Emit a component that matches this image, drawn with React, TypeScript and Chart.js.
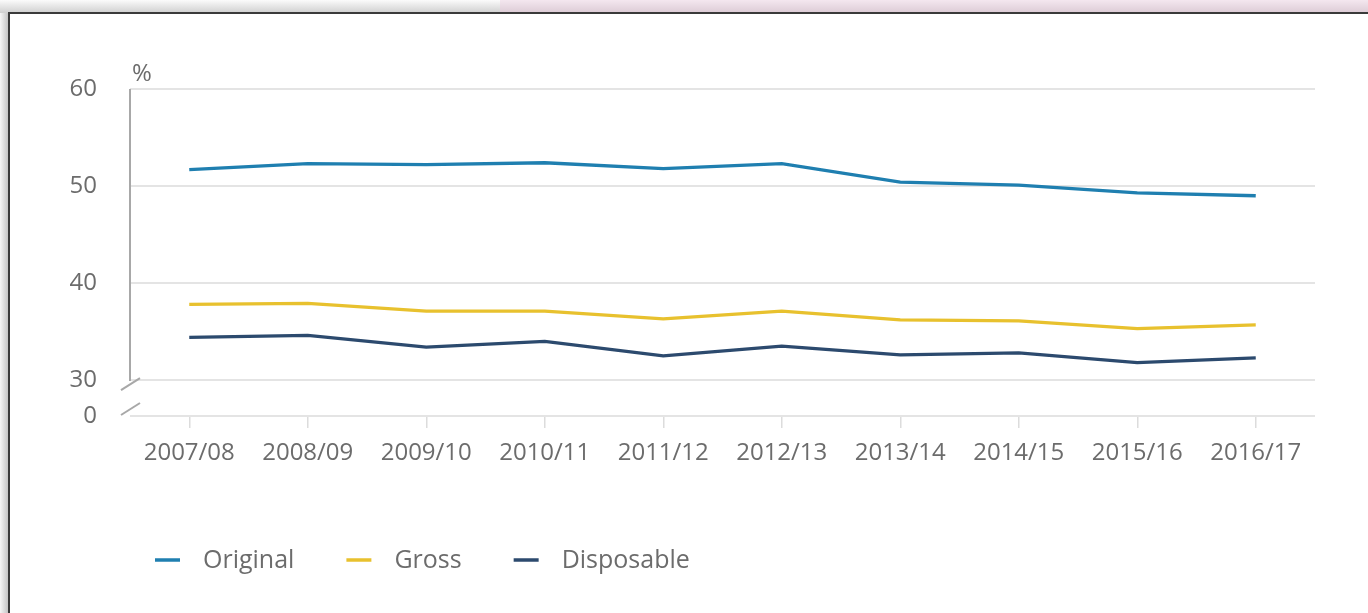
import React, { useEffect, useRef } from "react";
import { Chart, registerables } from "chart.js";

Chart.register(...registerables);

const categories = ["2007/08", "2008/09", "2009/10", "2010/11", "2011/12", "2012/13", "2013/14", "2014/15", "2015/16", "2016/17"];
const originalValues = [51.7, 52.3, 52.2, 52.4, 51.8, 52.3, 50.4, 50.1, 49.3, 49.0];
const grossValues = [37.8, 37.9, 37.1, 37.1, 36.3, 37.1, 36.2, 36.1, 35.3, 35.7];
const disposableValues = [34.4, 34.6, 33.4, 34.0, 32.5, 33.5, 32.6, 32.8, 31.8, 32.3];
// the axis is broken below 30: the "0" baseline is drawn at this display position
const yBreakFloor = 26.3;
const yTickValues = [yBreakFloor, 30, 40, 50, 60];
const yTickLabels = ["0", "30", "40", "50", "60"];
const yUnit = "%";

const FONT = "'Open Sans', 'DejaVu Sans', sans-serif";
const TEXT = "#6c6c6c";

const decorPlugin = {
  id: "decor",
  afterDraw(chart: any) {
    const { ctx, chartArea, scales } = chart;
    const y = scales.y;
    const left = chartArea.left;
    ctx.save();
    // unit label
    ctx.fillStyle = TEXT;
    ctx.font = `24px ${FONT}`;
    ctx.textAlign = "left";
    ctx.textBaseline = "middle";
    ctx.fillText(yUnit, left + 2, y.getPixelForValue(60) - 15);
    // axis line with break
    const y30 = y.getPixelForValue(30);
    const y0 = y.getPixelForValue(yBreakFloor);
    ctx.strokeStyle = "#a8a8a8";
    ctx.lineWidth = 2;
    ctx.beginPath();
    ctx.moveTo(left, y.getPixelForValue(60));
    ctx.lineTo(left, y30 + 1);
    ctx.stroke();
    const slash = (cy: number) => {
      ctx.beginPath();
      ctx.moveTo(left - 9, cy + 6);
      ctx.lineTo(left + 10, cy - 6);
      ctx.stroke();
    };
    slash(y30 + 4);
    slash(y0 - 7);
    // legend
    ctx.font = `25px ${FONT}`;
    ctx.textBaseline = "middle";
    let x = left + 25;
    const ly = 560 - 14;
    chart.data.datasets.forEach((ds: any) => {
      ctx.strokeStyle = ds.borderColor;
      ctx.lineWidth = 3.5;
      ctx.beginPath();
      ctx.moveTo(x, ly);
      ctx.lineTo(x + 25, ly);
      ctx.stroke();
      ctx.fillStyle = TEXT;
      ctx.fillText(ds.label, x + 48, ly + 1);
      x += 48 + ctx.measureText(ds.label).width + 52;
    });
    ctx.restore();
  },
};

export default function App() {
  const ref = useRef<HTMLCanvasElement | null>(null);
  useEffect(() => {
    if (!ref.current) return;
    const chart = new Chart(ref.current, {
      type: "line",
      data: {
        labels: categories,
        datasets: [
          { label: "Original", data: originalValues, borderColor: "#1f7fb0", backgroundColor: "#1f7fb0" },
          { label: "Gross", data: grossValues, borderColor: "#e8c12e", backgroundColor: "#e8c12e" },
          { label: "Disposable", data: disposableValues, borderColor: "#2c4a6e", backgroundColor: "#2c4a6e" },
        ],
      },
      options: {
        animation: false,
        responsive: true,
        maintainAspectRatio: false,
        elements: {
          line: { borderWidth: 3.3, tension: 0 },
          point: { radius: 0, hoverRadius: 0 },
        },
        layout: { padding: { left: 50, top: 75, right: 35, bottom: 137 } },
        plugins: { legend: { display: false }, tooltip: { enabled: false } },
        scales: {
          x: {
            offset: true,
            border: { display: false },
            grid: { display: true, drawOnChartArea: false, drawTicks: true, tickLength: 12, color: "#dcdcdc", lineWidth: 1.5 },
            ticks: { color: TEXT, font: { family: FONT, size: 24 }, padding: 11, maxRotation: 0, autoSkip: false },
            afterFit: (s: any) => { s.height = 60; },
          },
          y: {
            min: yBreakFloor,
            max: 60,
            border: { display: false },
            grid: { color: "#e4e4e4", lineWidth: 2, drawTicks: false },
            afterBuildTicks: (s: any) => { s.ticks = yTickValues.map((v) => ({ value: v })); },
            ticks: {
              color: TEXT,
              font: { family: FONT, size: 24 },
              padding: 33,
              callback: (v: any) => yTickLabels[yTickValues.indexOf(Number(v))] ?? "",
            },
            afterFit: (s: any) => { s.width = 70; },
          },
        },
      },
      plugins: [decorPlugin],
    });
    return () => chart.destroy();
  }, []);

  return (
    <div style={{ position: "fixed", inset: 0, background: "#fff", overflow: "hidden" }}>
      <div style={{ position: "absolute", left: 0, top: 0, width: 500, height: 13, background: "linear-gradient(to bottom, #fbfbfb, #cfcfcf)" }} />
      <div style={{ position: "absolute", left: 500, right: 0, top: 0, height: 13, background: "linear-gradient(to bottom, #f4e7ef, #dccbd5)" }} />
      <div style={{ position: "absolute", left: 0, top: 13, width: 8, bottom: 0, background: "linear-gradient(to right, #f6f6f6, #c4c4c4)" }} />
      <div style={{ position: "absolute", left: 8, top: 12, right: -10, bottom: -10, borderTop: "2px solid #3a3a3a", borderLeft: "2px solid #3a3a3a", background: "#fff" }} />
      <div style={{ position: "absolute", left: 10, top: 14, width: 1340, height: 599 }}>
        <canvas ref={ref} />
      </div>
    </div>
  );
}
